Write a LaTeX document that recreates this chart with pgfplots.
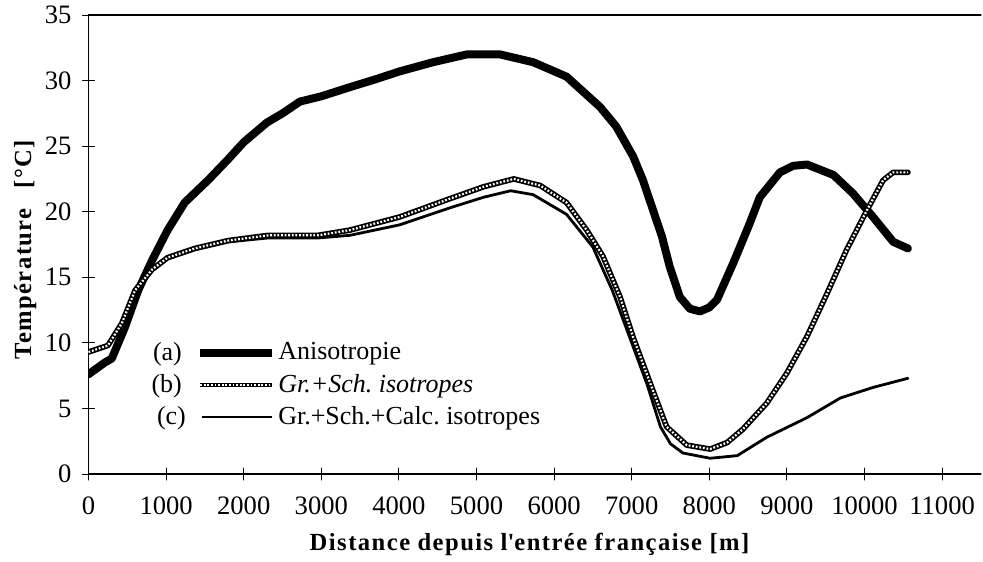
\documentclass[border=0pt]{standalone}
\usepackage{pgfplots}
\pgfplotsset{compat=1.18}
\usepackage{pgfplotstable}
\usepackage{fontspec}
\setmainfont{Liberation Serif}

\pgfplotstableread{
x y
0 7.6
210 8.5
300 8.8
470 11.2
640 14.0
820 16.3
1020 18.6
1240 20.7
1540 22.4
1800 24.0
2000 25.3
2300 26.8
2500 27.5
2725 28.4
3000 28.8
3370 29.5
3700 30.1
4010 30.7
4440 31.4
4880 32.0
5300 32.0
5730 31.4
6160 30.3
6590 28.0
6800 26.5
7020 24.2
7145 22.4
7390 18.1
7490 15.8
7620 13.5
7750 12.6
7880 12.4
8000 12.7
8100 13.3
8310 16.1
8520 19.1
8650 21.1
8910 23.0
9080 23.5
9260 23.6
9600 22.8
9850 21.4
10110 19.6
10370 17.7
10560 17.2
}\anis

\pgfplotstableread{
x y
0 9.3
250 9.8
430 11.5
600 14.0
820 15.6
1020 16.5
1370 17.2
1800 17.8
2320 18.2
2960 18.2
3370 18.6
4010 19.6
4660 21.0
5090 21.9
5480 22.5
5820 22.0
6160 20.7
6420 18.6
6630 16.6
6850 13.5
7020 10.4
7240 6.9
7450 3.6
7710 2.2
8010 1.9
8230 2.4
8430 3.4
8740 5.4
9000 7.7
9260 10.5
9520 13.8
9770 17.1
10030 20.1
10240 22.4
10370 23.0
10560 23.0
}\grsch

\pgfplotstableread{
x y
0 9.3
250 9.7
430 11.4
600 13.9
820 15.5
1020 16.4
1370 17.1
1800 17.7
2320 18.0
2960 18.0
3370 18.2
4010 19.0
4660 20.3
5090 21.1
5440 21.6
5730 21.3
6160 19.8
6500 17.3
6750 14.0
7000 10.0
7200 6.8
7370 3.6
7500 2.3
7660 1.6
8010 1.2
8360 1.4
8740 2.8
9260 4.3
9690 5.8
10110 6.6
10560 7.3
}\calc

\begin{document}
\begin{tikzpicture}
\begin{axis}[
  scale only axis,
  width=446.2pt, height=229.5pt,
  xmin=0, xmax=11500, ymin=0, ymax=35,
  axis x line=box, axis y line=left,
  axis line style={-, line width=0.6pt},
  xtick={0,1000,...,11000}, ytick={0,5,...,35},
  xtick pos=bottom, ytick pos=left,
  tick align=center, major tick length=6pt,
  tick style={black, line width=0.5pt},
  scaled x ticks=false,
  /pgf/number format/assume math mode=true,
  /pgf/number format/1000 sep={},
  tick label style={font=\fontsize{13.3}{15}\selectfont},
  x tick label style={yshift=-5pt},
  y tick label style={xshift=-2pt},
  xlabel={\textbf{Distance\hspace{0.3em}depuis\hspace{0.3em}l{\addfontfeature{Ligatures=TeXOff}'}entrée\hspace{0.3em}française\hspace{0.3em}[m]}},
  ylabel={\textbf{Température\hspace{0.8em}[°C]}},
  label style={font=\fontsize{12.3}{14}\selectfont\addfontfeature{LetterSpace=6}},
  xlabel style={at={(axis description cs:0.495,-0.1525)}, anchor=center},
  ylabel style={at={(axis description cs:-0.071,0.49)}, anchor=center},
  legend style={at={(axis description cs:0.068,0.292)}, anchor=north west, draw=none, fill=none,
    font=\fontsize{13}{15}\selectfont, row sep=3.5pt, inner sep=0pt,
    nodes={inner sep=1pt}},
  legend cell align=left,
  line join=round, line cap=round,
]
\addplot[black, line width=4pt, forget plot] table[x=x,y=y] {\anis};
\addplot[black, line width=1.4pt, forget plot] table[x=x,y=y] {\calc};
\addplot[black, line width=2.8pt, forget plot] table[x=x,y=y] {\grsch};
\addplot[white, line width=1.1pt, dash pattern=on 0.9pt off 0.9pt, line cap=butt, forget plot] table[x=x,y=y] {\grsch};

\addlegendimage{legend image code/.code={
  \node[anchor=east, font=\fontsize{13}{15}\selectfont] at (-8pt,0pt) {(a)};
  \draw[black, line width=4pt, line cap=butt] (0pt,0pt) -- (36pt,0pt);}}
\addlegendentry{Anisotropie}
\addlegendimage{legend image code/.code={
  \node[anchor=east, font=\fontsize{13}{15}\selectfont] at (-8pt,0pt) {(b)};
  \draw[black, line width=2.4pt, line cap=butt] (0pt,0pt) -- (36pt,0pt);
  \draw[white, line width=0.9pt, line cap=butt, dash pattern=on 0.9pt off 0.9pt] (0pt,0pt) -- (36pt,0pt);}}
\addlegendentry{\textit{Gr.+Sch.\ isotropes}}
\addlegendimage{legend image code/.code={
  \node[anchor=east, font=\fontsize{13}{15}\selectfont] at (-6pt,0pt) {(c)};
  \draw[black, line width=1.4pt] (1pt,0pt) -- (36pt,0pt);}}
\addlegendentry{Gr.+Sch.+Calc.\ isotropes}
\end{axis}
\pgfresetboundingbox
\path[use as bounding box] (-44.25pt,-43.5pt) rectangle (447.25pt,237pt);
\end{tikzpicture}
\end{document}
